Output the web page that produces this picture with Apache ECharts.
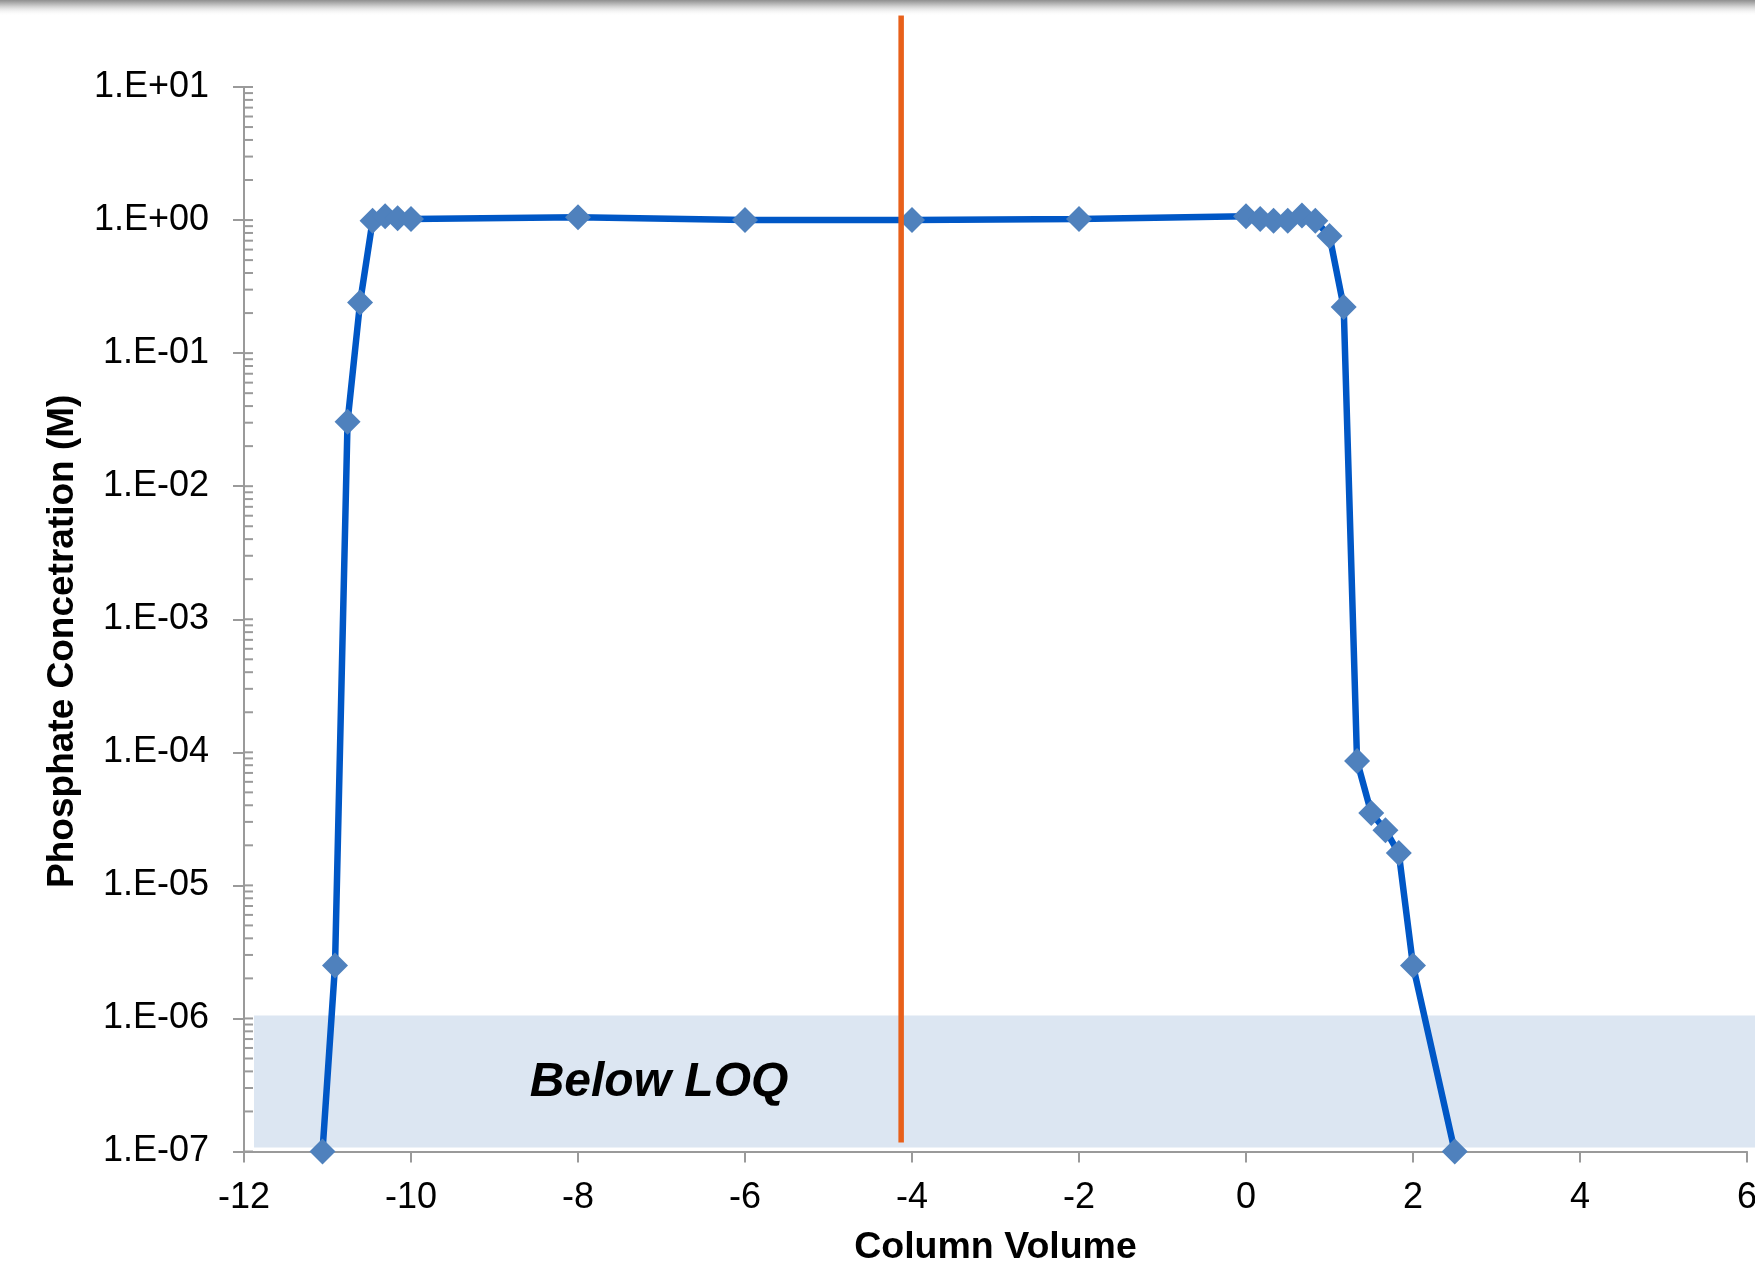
<!DOCTYPE html>
<html>
<head>
<meta charset="utf-8">
<script src="https://cdn.jsdelivr.net/npm/echarts@6/dist/echarts.min.js"></script>
<style>
html,body{margin:0;padding:0;background:#ffffff;}
#chart{width:1755px;height:1264px;}
</style>
</head>
<body>
<div id="chart"></div>
<script>
// ---- data ----
const columnVolume = [-11.06, -10.91, -10.76, -10.61, -10.46, -10.31, -10.16, -10.0,
  -8.0, -6.0, -4.0, -2.0,
  0.0, 0.17, 0.33, 0.5, 0.67, 0.83, 1.0, 1.17, 1.33, 1.5, 1.67, 1.83, 2.0, 2.5];
const phosphateM = [1e-7, 2.5e-6, 0.0305, 0.24, 0.99, 1.07, 1.03, 1.02,
  1.05, 1.0, 1.0, 1.02,
  1.07, 1.02, 0.99, 0.99, 1.08, 0.99, 0.76, 0.222, 8.6e-5, 3.5e-5, 2.6e-5, 1.75e-5, 2.5e-6, 1e-7];
const markerLineX = [-4.13, -4.13];
const markerLineY = [34.5, 1.17e-7];
const loqBox = { x: [-11.88, 6.1], y: [1.05e-6, 1.07e-7] };
const loqLabel = { text: 'Below LOQ', x: -7.03, y: 3.3e-7 };
const yTickLabels = ['1.E-07','1.E-06','1.E-05','1.E-04','1.E-03','1.E-02','1.E-01','1.E+00','1.E+01'];
const xTitle = 'Column Volume';
const yTitle = 'Phosphate Concetration (M)';

const FONT = '"Liberation Sans", Arial, Helvetica, sans-serif';
const AXIS_GRAY = '#9a9a9a';

// log tick values (1..9 within each decade) for the inner axis tick decoration
const minorTickValues = [];
for (let e = -7; e <= 0; e++) {
  for (let m = 1; m <= 9; m++) minorTickValues.push(m * Math.pow(10, e));
}
minorTickValues.push(10);

const chart = echarts.init(document.getElementById('chart'), null, { renderer: 'canvas' });

const option = {
  backgroundColor: '#ffffff',
  animation: false,
  grid: { left: 244, right: 8, top: 87, bottom: 112.5, containLabel: false, outerBoundsMode: 'none' },
  graphic: [{
    type: 'rect',
    shape: { x: 0, y: 0, width: 1755, height: 16 },
    style: {
      fill: new echarts.graphic.LinearGradient(0, 0, 0, 1, [
        { offset: 0, color: '#8f8f8f' },
        { offset: 0.35, color: '#c8c8c8' },
        { offset: 1, color: 'rgba(255,255,255,0)' }
      ])
    },
    z: 100
  }],
  xAxis: {
    type: 'value',
    min: -12, max: 6, interval: 2,
    name: xTitle,
    nameLocation: 'middle',
    nameGap: 77,
    nameTextStyle: { fontFamily: FONT, fontSize: 37.5, fontWeight: 'bold', color: '#000' },
    axisLine: { show: true, onZero: false, lineStyle: { color: AXIS_GRAY, width: 2 } },
    axisTick: { show: true, inside: false, length: 11, lineStyle: { color: AXIS_GRAY, width: 2 } },
    axisLabel: { fontFamily: FONT, fontSize: 36, color: '#000', margin: 29 },
    splitLine: { show: false }
  },
  yAxis: {
    type: 'log',
    logBase: 10,
    min: 1e-7, max: 10,
    name: yTitle,
    nameLocation: 'middle',
    nameGap: 163,
    nameTextStyle: { fontFamily: FONT, fontSize: 37, fontWeight: 'bold', color: '#000', padding: [0, 44, 0, 0] },
    axisLine: { show: true, onZero: false, lineStyle: { color: AXIS_GRAY, width: 2 } },
    axisTick: { show: true, inside: false, length: 11, lineStyle: { color: AXIS_GRAY, width: 2 } },
    axisLabel: {
      fontFamily: FONT, fontSize: 36, color: '#000', margin: 35,
      formatter: function (v) {
        const e = Math.round(Math.log10(v));
        return yTickLabels[e + 7];
      }
    },
    splitLine: { show: false }
  },
  series: [
    {
      type: 'custom',
      name: 'LOQ',
      z: 1,
      silent: true,
      clip: false,
      data: [[loqBox.x[0], loqBox.y[0], loqBox.x[1], loqBox.y[1]]],
      renderItem: function (params, api) {
        const p1 = api.coord([api.value(0), api.value(1)]);
        const p2 = api.coord([api.value(2), api.value(3)]);
        const c = api.coord([loqLabel.x, loqLabel.y]);
        return {
          type: 'group',
          children: [{
            type: 'rect',
            shape: { x: p1[0], y: p1[1], width: p2[0] - p1[0], height: p2[1] - p1[1] },
            style: { fill: '#dce6f2' }
          }, {
            type: 'text',
            x: c[0], y: c[1],
            style: {
              text: loqLabel.text,
              fontFamily: FONT, fontSize: 48, fontWeight: 'bold', fontStyle: 'italic',
              fill: '#000', align: 'center', verticalAlign: 'middle'
            }
          }]
        };
      }
    },
    {
      type: 'custom',
      name: 'minorTicks',
      z: 2,
      silent: true,
      clip: false,
      data: minorTickValues.map(v => [v]),
      renderItem: function (params, api) {
        const p = api.coord([-12, api.value(0)]);
        return {
          type: 'line',
          shape: { x1: p[0], y1: p[1], x2: p[0] + 9, y2: p[1] },
          style: { stroke: AXIS_GRAY, lineWidth: 2 }
        };
      }
    },
    {
      type: 'line',
      name: 'Phosphate',
      z: 3,
      data: columnVolume.map((x, i) => [x, phosphateM[i]]),
      lineStyle: { color: '#0057c6', width: 6.5 },
      symbol: 'diamond',
      symbolSize: 26,
      itemStyle: { color: '#4f81bd' },
      clip: false
    },
    {
      type: 'line',
      name: 'Marker',
      z: 4,
      data: markerLineX.map((x, i) => [x, markerLineY[i]]),
      lineStyle: { color: '#e8601a', width: 5.5 },
      symbol: 'none',
      clip: false
    }
  ]
};
chart.setOption(option);
</script>
</body>
</html>
